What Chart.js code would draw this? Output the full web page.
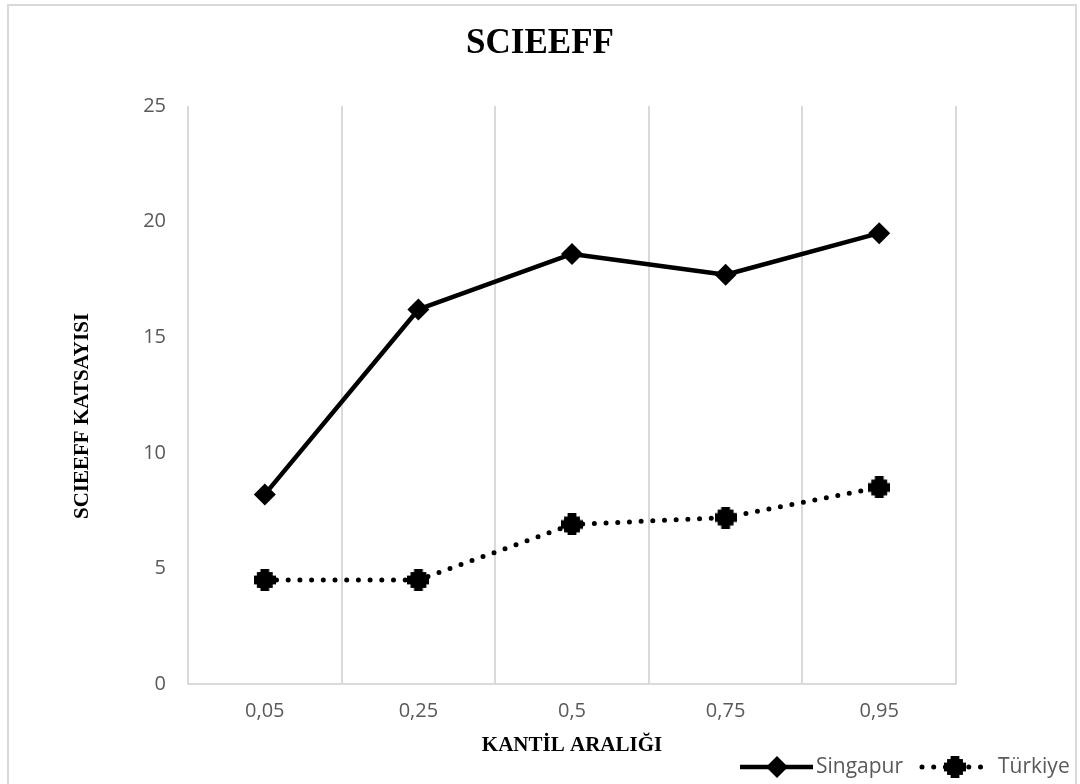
<!DOCTYPE html>
<html>
<head>
<meta charset="utf-8">
<title>SCIEEFF</title>
<script src="https://cdn.jsdelivr.net/npm/chart.js@4"></script>
<style>
  html, body { margin: 0; padding: 0; background: #fff; }
  canvas { display: block; }
</style>
</head>
<body>
<canvas id="chart" width="1080" height="784"></canvas>
<script>
// data
const categories = ['0,05', '0,25', '0,5', '0,75', '0,95'];
const singapur = [8.2, 16.2, 18.6, 17.7, 19.5];
const turkiye = [4.5, 4.5, 6.9, 7.2, 8.5];
const yMin = 0, yMax = 25, yStep = 5;

const tickColor = '#595959';
const gridColor = '#d9d9d9';

// blob-like cross marker used for Türkiye
function crossMarker(s) {
  let c = document.createElement('canvas');
  c.width = s; c.height = s;
  let g = c.getContext('2d');
  g.fillStyle = '#000';
  g.fillRect(s * 0.14, s * 0.14, s * 0.72, s * 0.72);
  g.fillRect(0, s * 0.3, s, s * 0.4);
  g.fillRect(s * 0.3, 0, s * 0.4, s);
  return c;
}
const trMarker = crossMarker(22);

// outer frame + custom legend (line + marker, like the original)
const framePlugin = {
  id: 'frame',
  beforeDraw(chart) {
    let ctx = chart.ctx;
    ctx.save();
    ctx.strokeStyle = gridColor;
    ctx.lineWidth = 2;
    ctx.strokeRect(8, 5, 1068, 790);
    ctx.restore();
  },
  afterDraw(chart) {
    let ctx = chart.ctx;
    let y = 767;
    ctx.save();
    // Singapur
    ctx.strokeStyle = '#000';
    ctx.lineWidth = 4.5;
    ctx.lineCap = 'butt';
    ctx.beginPath(); ctx.moveTo(740, y); ctx.lineTo(813, y); ctx.stroke();
    ctx.fillStyle = '#000';
    ctx.beginPath();
    ctx.moveTo(777, y - 11); ctx.lineTo(788, y); ctx.lineTo(777, y + 11); ctx.lineTo(766, y);
    ctx.closePath(); ctx.fill();
    // Türkiye
    ctx.lineWidth = 5;
    ctx.lineCap = 'round';
    ctx.setLineDash([0, 11.7]);
    ctx.beginPath(); ctx.moveTo(922, y); ctx.lineTo(986, y); ctx.stroke();
    ctx.setLineDash([]);
    ctx.drawImage(trMarker, 955 - 11, y - 11);
    // labels
    ctx.fillStyle = tickColor;
    ctx.font = '21px "Open Sans"';
    ctx.textBaseline = 'middle';
    ctx.textAlign = 'left';
    ctx.fillText('Singapur', 816, y);
    ctx.fillText('Türkiye', 998, y);
    ctx.restore();
  }
};

new Chart(document.getElementById('chart'), {
  type: 'line',
  data: {
    labels: categories,
    datasets: [{
      label: 'Singapur',
      data: singapur,
      borderColor: '#000',
      backgroundColor: '#000',
      borderWidth: 4.5,
      borderJoinStyle: 'round',
      pointStyle: 'rectRot',
      pointRadius: 11,
      pointBackgroundColor: '#000',
      pointBorderColor: '#000',
      pointBorderWidth: 0,
      tension: 0
    }, {
      label: 'Türkiye',
      data: turkiye,
      borderColor: '#000',
      backgroundColor: '#000',
      borderWidth: 5,
      borderCapStyle: 'round',
      borderDash: [0, 11.7],
      pointStyle: trMarker,
      pointRadius: 11,
      tension: 0
    }]
  },
  options: {
    responsive: false,
    animation: false,
    devicePixelRatio: 1,
    events: [],
    layout: { padding: 0 },
    plugins: {
      legend: { display: false },
      tooltip: { enabled: false },
      title: {
        display: true,
        text: 'SCIEEFF',
        color: '#000',
        font: { family: '"Liberation Serif", "Times New Roman", serif', size: 35, weight: 'bold' },
        padding: { top: 23, bottom: 41 }
      }
    },
    scales: {
      x: {
        offset: true,
        grid: { display: true, offset: true, color: gridColor, lineWidth: 2, drawTicks: false },
        border: { display: true, color: gridColor, width: 2 },
        ticks: { color: tickColor, font: { family: '"Open Sans"', size: 20 }, padding: 15 },
        title: {
          display: true,
          text: 'KANTİL ARALIĞI',
          color: '#000',
          font: { family: '"Liberation Serif", "Times New Roman", serif', size: 21, weight: 'bold' },
          padding: { top: 4, bottom: 26 }
        },
        afterFit(s) { s.height = 100; }
      },
      y: {
        min: yMin,
        max: yMax,
        grid: { display: false, drawTicks: false },
        border: { display: false },
        ticks: { stepSize: yStep, color: tickColor, font: { family: '"Open Sans"', size: 20 }, padding: 22 },
        title: {
          display: true,
          text: 'SCIEEFF KATSAYISI        ',
          color: '#000',
          font: { family: '"Liberation Serif", "Times New Roman", serif', size: 21, weight: 'bold' },
          padding: { top: 70, bottom: 0 }
        },
        afterFit(s) { s.width = 188; }
      },
      right: {
        position: 'right',
        display: true,
        grid: { display: false, drawTicks: false },
        border: { display: false },
        ticks: { display: false },
        afterFit(s) { s.width = 124; }
      }
    }
  },
  plugins: [framePlugin]
});
</script>
</body>
</html>
